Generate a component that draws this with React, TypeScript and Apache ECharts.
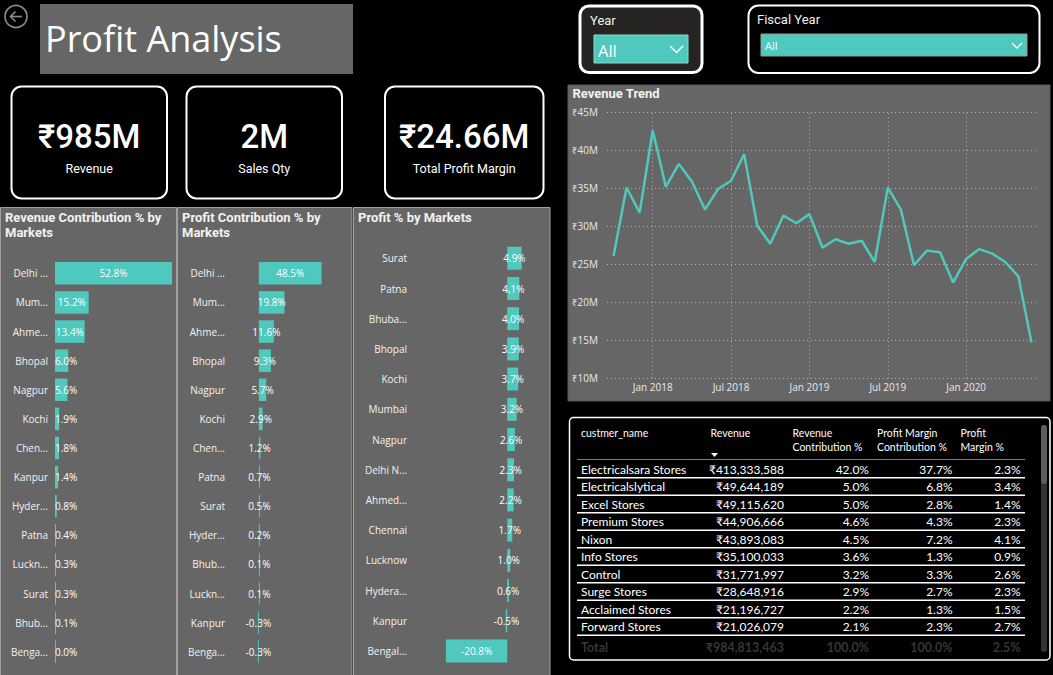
import React, { useEffect, useRef } from "react";
import * as echarts from "echarts";

// ---------- data ----------
const kpiValues = ["₹985M", "2M", "₹24.66M"];
const kpiLabels = ["Revenue", "Sales Qty", "Total Profit Margin"];

const revMarkets = ["Delhi ...", "Mum...", "Ahme...", "Bhopal", "Nagpur", "Kochi", "Chen...", "Kanpur", "Hyder...", "Patna", "Luckn...", "Surat", "Bhub...", "Benga..."];
const revContribPct = [52.8, 15.2, 13.4, 6.0, 5.6, 1.9, 1.8, 1.4, 0.8, 0.4, 0.3, 0.3, 0.1, 0.0];

const profitMarkets = ["Delhi ...", "Mum...", "Ahme...", "Bhopal", "Nagpur", "Kochi", "Chen...", "Patna", "Surat", "Hyder...", "Bhub...", "Luckn...", "Kanpur", "Benga..."];
const profitContribPct = [48.5, 19.8, 11.6, 9.3, 5.7, 2.9, 1.2, 0.7, 0.5, 0.2, 0.1, 0.1, -0.3, -0.3];

const marginMarkets = ["Surat", "Patna", "Bhuba...", "Bhopal", "Kochi", "Mumbai", "Nagpur", "Delhi N...", "Ahmed...", "Chennai", "Lucknow", "Hydera...", "Kanpur", "Bengal..."];
const marginPct = [4.9, 4.1, 4.0, 3.9, 3.7, 3.2, 2.6, 2.3, 2.2, 1.7, 1.0, 0.6, -0.5, -20.8];

const trendMonths = [
  "Oct 2017", "Nov 2017", "Dec 2017",
  "Jan 2018", "Feb 2018", "Mar 2018", "Apr 2018", "May 2018", "Jun 2018",
  "Jul 2018", "Aug 2018", "Sep 2018", "Oct 2018", "Nov 2018", "Dec 2018",
  "Jan 2019", "Feb 2019", "Mar 2019", "Apr 2019", "May 2019", "Jun 2019",
  "Jul 2019", "Aug 2019", "Sep 2019", "Oct 2019", "Nov 2019", "Dec 2019",
  "Jan 2020", "Feb 2020", "Mar 2020", "Apr 2020", "May 2020", "Jun 2020",
];
const trendRevenueM = [26.1, 35.1, 31.8, 42.6, 35.2, 38.2, 35.9, 32.2, 34.9, 36.0, 39.5, 30.1, 27.7, 31.4, 30.4, 31.6, 27.2, 28.3, 27.7, 28.1, 25.3, 35.1, 32.2, 24.9, 26.8, 26.6, 22.6, 25.7, 27.0, 26.4, 25.3, 23.4, 14.7];
const trendTickLabels = ["Jan 2018", "Jul 2018", "Jan 2019", "Jul 2019", "Jan 2020"];
const trendYMin = 10;
const trendYMax = 45;
const trendYStep = 5;

const tableHeaders = [["custmer_name"], ["Revenue"], ["Revenue", "Contribution %"], ["Profit Margin", "Contribution %"], ["Profit", "Margin %"]];
const customers = ["Electricalsara Stores", "Electricalslytical", "Excel Stores", "Premium Stores", "Nixon", "Info Stores", "Control", "Surge Stores", "Acclaimed Stores", "Forward Stores"];
const custRevenue = [413333588, 49644189, 49115620, 44906666, 43893083, 35100033, 31771997, 28648916, 21196727, 21026079];
const custRevContrib = [42.0, 5.0, 5.0, 4.6, 4.5, 3.6, 3.2, 2.9, 2.2, 2.1];
const custPmContrib = [37.7, 6.8, 2.8, 4.3, 7.2, 1.3, 3.3, 2.7, 1.3, 2.3];
const custPmPct = [2.3, 3.4, 1.4, 2.3, 4.1, 0.9, 2.6, 2.3, 1.5, 2.7];
const totalLabel = "Total";
const totalRevenue = 984813463;
const totalRevContrib = 100.0;
const totalPmContrib = 100.0;
const totalPmPct = 2.5;

// ---------- styling ----------
const W = 1053;
const H = 675;
const TEAL = "#4fc8bd";
const PANEL = "#666666";
const SEGOE = "'Open Sans', 'Noto Sans', sans-serif";
const DIN = "Roboto, 'Noto Sans', sans-serif";
const TABLEF = "Lato, 'Open Sans', sans-serif";

const pct = (v: number) => v.toFixed(1) + "%";
const rupee = (v: number) => "₹" + v.toLocaleString("en-US");

function txt(text: string, x: number, y: number, size: number, opts: any = {}) {
  const align = opts.align || "left";
  return {
    type: "text",
    z: 10,
    silent: true,
    style: {
      text,
      x,
      y,
      fill: opts.fill || "#ffffff",
      fontSize: size,
      fontFamily: opts.font || SEGOE,
      fontWeight: opts.weight || "normal",
      align,
      textAlign: align,
      verticalAlign: "middle",
      textVerticalAlign: "middle",
    },
  };
}

function buildGraphics() {
  const g: any[] = [];
  // back arrow
  g.push({ type: "circle", z: 10, shape: { cx: 16, cy: 16.5, r: 11 }, style: { fill: "none", stroke: "#8c8c8c", lineWidth: 1.6 } });
  g.push({ type: "line", z: 10, shape: { x1: 10.5, y1: 16.5, x2: 22, y2: 16.5 }, style: { stroke: "#8c8c8c", lineWidth: 1.6 } });
  g.push({ type: "polyline", z: 10, shape: { points: [[15.5, 11.5], [10.5, 16.5], [15.5, 21.5]] }, style: { fill: "none", stroke: "#8c8c8c", lineWidth: 1.6 } });

  // title
  g.push({ type: "rect", z: 1, shape: { x: 40, y: 4, width: 313, height: 70 }, style: { fill: PANEL } });
  g.push(txt("Profit Analysis", 45, 38, 36, { font: SEGOE }));

  // KPI cards
  const cardX = [11.5, 186.5, 385];
  const cardW = [155.5, 155.5, 158.5];
  cardX.forEach((x, i) => {
    g.push({ type: "rect", z: 1, shape: { x, y: 86.5, width: cardW[i], height: 112, r: 10 }, style: { fill: "#000", stroke: "#ffffff", lineWidth: 2 } });
    g.push(txt(kpiValues[i], x + cardW[i] / 2, 136, 33, { font: DIN, weight: 500, align: "center" }));
    g.push(txt(kpiLabels[i], x + cardW[i] / 2, 168.5, 12.5, { font: DIN, align: "center" }));
  });

  // Year slicer
  g.push({ type: "rect", z: 1, shape: { x: 580, y: 6, width: 122, height: 66.5, r: 9 }, style: { fill: "#252423", stroke: "#ffffff", lineWidth: 3 } });
  g.push(txt("Year", 590, 20, 13, { font: DIN, fill: "#f0f0f0" }));
  g.push({ type: "rect", z: 2, shape: { x: 594, y: 35, width: 94, height: 28 }, style: { fill: TEAL, stroke: "#8fd8d0", lineWidth: 1 } });
  g.push(txt("All", 598, 50.5, 16.5, { font: SEGOE }));
  g.push({ type: "polyline", z: 10, shape: { points: [[670, 46], [676.5, 52.5], [683, 46]] }, style: { fill: "none", stroke: "#ffffff", lineWidth: 1.5 } });

  // Fiscal Year slicer
  g.push({ type: "rect", z: 1, shape: { x: 748.5, y: 5.5, width: 291, height: 67.5, r: 10 }, style: { fill: "#000", stroke: "#ffffff", lineWidth: 2 } });
  g.push(txt("Fiscal Year", 757, 19.5, 13, { font: DIN, fill: "#f0f0f0" }));
  g.push({ type: "rect", z: 2, shape: { x: 761, y: 34, width: 266, height: 22 }, style: { fill: TEAL, stroke: "#9a9a9a", lineWidth: 1 } });
  g.push(txt("All", 765, 45.5, 11, { font: SEGOE }));
  g.push({ type: "polyline", z: 10, shape: { points: [[1012, 43], [1017, 48], [1022, 43]] }, style: { fill: "none", stroke: "#ffffff", lineWidth: 1.3 } });

  // bar panels
  const panels = [
    { x: 0.5, w: 176, title: ["Revenue Contribution % by", "Markets"] },
    { x: 177.5, w: 174.5, title: ["Profit Contribution % by", "Markets"] },
    { x: 353.5, w: 196.5, title: ["Profit % by Markets"] },
  ];
  panels.forEach((p) => {
    g.push({ type: "rect", z: -1, shape: { x: p.x, y: 207.5, width: p.w, height: 470 }, style: { fill: PANEL, stroke: "#a0a0a0", lineWidth: 1 } });
    p.title.forEach((t, k) => g.push(txt(t, p.x + 4.5, 217.8 + k * 15, 13, { font: DIN, weight: "bold", fill: "#f2f2f2" })));
  });

  // revenue trend panel
  g.push({ type: "rect", z: -1, shape: { x: 568, y: 85, width: 482, height: 316 }, style: { fill: PANEL, stroke: "#5a5a5a", lineWidth: 1 } });
  g.push(txt("Revenue Trend", 572.5, 93.5, 13, { font: DIN, weight: "bold", fill: "#f2f2f2" }));

  // table
  g.push({ type: "rect", z: 1, shape: { x: 569.5, y: 417.5, width: 480.5, height: 242.5, r: 4 }, style: { fill: "#000", stroke: "#ffffff", lineWidth: 1.5 } });
  const headX = [581, 710.5, 792.5, 877, 960.5];
  tableHeaders.forEach((lines, c) => {
    lines.forEach((t, k) => g.push(txt(t, headX[c], 432.5 + k * 14.5, 10.5, { font: TABLEF })));
  });
  g.push({ type: "polygon", z: 10, shape: { points: [[711, 453], [718, 453], [714.5, 457]] }, style: { fill: "#ffffff" } });
  g.push({ type: "line", z: 10, shape: { x1: 577, y1: 459.5, x2: 1025, y2: 459.5 }, style: { stroke: "#7a7a7a", lineWidth: 1 } });
  const colRight = [784, 869, 952.5, 1020.5];
  const rowH = 17.5;
  customers.forEach((name, i) => {
    const y = 469.3 + i * rowH;
    g.push(txt(name, 581, y, 12, { font: TABLEF }));
    g.push(txt(rupee(custRevenue[i]), colRight[0], y, 12, { font: TABLEF, align: "right" }));
    g.push(txt(pct(custRevContrib[i]), colRight[1], y, 12, { font: TABLEF, align: "right" }));
    g.push(txt(pct(custPmContrib[i]), colRight[2], y, 12, { font: TABLEF, align: "right" }));
    g.push(txt(pct(custPmPct[i]), colRight[3], y, 12, { font: TABLEF, align: "right" }));
    const ly = 477.7 + i * rowH;
    g.push({ type: "line", z: 10, shape: { x1: 577, y1: ly, x2: 1025, y2: ly }, style: { stroke: "#ffffff", lineWidth: 1.5 } });
  });
  const ty = 469.3 + customers.length * rowH + 3;
  const dim = "#363636";
  g.push(txt(totalLabel, 581, ty, 12.5, { font: TABLEF, weight: "bold", fill: dim }));
  g.push(txt(rupee(totalRevenue), colRight[0], ty, 12.5, { font: TABLEF, weight: "bold", fill: dim, align: "right" }));
  g.push(txt(pct(totalRevContrib), colRight[1], ty, 12.5, { font: TABLEF, weight: "bold", fill: dim, align: "right" }));
  g.push(txt(pct(totalPmContrib), colRight[2], ty, 12.5, { font: TABLEF, weight: "bold", fill: dim, align: "right" }));
  g.push(txt(pct(totalPmPct), colRight[3], ty, 12.5, { font: TABLEF, weight: "bold", fill: dim, align: "right" }));
  // scrollbar
  g.push({ type: "rect", z: 10, shape: { x: 1041, y: 425, width: 6, height: 227, r: 3 }, style: { fill: "#333333" } });
  g.push({ type: "rect", z: 11, shape: { x: 1041, y: 425, width: 6, height: 59, r: 3 }, style: { fill: "#5e5e5e" } });
  return g;
}

function catAxis(gridIndex: number, data: string[], margin: number) {
  return {
    type: "category",
    gridIndex,
    data,
    inverse: true,
    axisLine: { show: false },
    axisTick: { show: false },
    splitLine: { show: false },
    axisLabel: { color: "#f2f2f2", fontSize: 10, margin, fontFamily: SEGOE },
  };
}

function valAxis(gridIndex: number, min: number, max: number) {
  return { type: "value", gridIndex, min, max, show: false, splitLine: { show: false } };
}

function barSeries(idx: number, values: number[], barWidth: number, posRule: (v: number) => string) {
  return {
    type: "bar",
    xAxisIndex: idx,
    yAxisIndex: idx,
    silent: true,
    barWidth,
    barMinHeight: 1,
    itemStyle: { color: TEAL },
    data: values.map((v) => ({ value: v, label: { position: posRule(v) } })),
    label: {
      show: true,
      distance: 0,
      color: "#ffffff",
      fontSize: 10,
      fontFamily: SEGOE,
      textBorderWidth: 0,
      formatter: (p: any) => pct(p.value),
    },
  };
}

function buildOption() {
  return {
    animation: false,
    backgroundColor: "#000000",
    textStyle: { fontFamily: SEGOE },
    grid: [
      { left: 55, top: 258.75, width: 119.6, height: 407.6 },
      { left: 255, top: 258.75, width: 75, height: 407.6 },
      { left: 433.5, top: 243.2, width: 103.25, height: 422.8 },
      { left: 607, top: 112.3, width: 431, height: 266 },
    ],
    xAxis: [
      valAxis(0, 0, 54),
      valAxis(1, -3, 55),
      valAxis(2, -25, 10),
      {
        type: "category",
        gridIndex: 3,
        data: trendMonths,
        boundaryGap: true,
        axisLine: { show: false },
        axisTick: { show: false },
        splitLine: { show: false },
        axisLabel: {
          interval: (_i: number, v: string) => trendTickLabels.includes(v),
          color: "#e8e8e8",
          fontSize: 10,
          margin: 4,
          fontFamily: SEGOE,
        },
      },
    ],
    yAxis: [
      catAxis(0, revMarkets, 7),
      catAxis(1, profitMarkets, 30),
      catAxis(2, marginMarkets, 26.5),
      {
        type: "value",
        gridIndex: 3,
        min: trendYMin,
        max: trendYMax,
        interval: trendYStep,
        axisLine: { show: false },
        axisTick: { show: false },
        axisLabel: { formatter: (v: number) => `₹${v}M`, color: "#e8e8e8", fontSize: 10, margin: 9, fontFamily: SEGOE },
        splitLine: { lineStyle: { type: [1, 3], color: "#b4b4b4", width: 1 } },
      },
    ],
    series: [
      barSeries(0, revContribPct, 22.5, (v) => (v >= 10 ? "inside" : "insideLeft")),
      barSeries(1, profitContribPct, 22.5, () => "inside"),
      barSeries(2, marginPct, 23, () => "inside"),
      {
        type: "line",
        xAxisIndex: 3,
        yAxisIndex: 3,
        data: trendRevenueM,
        showSymbol: false,
        symbol: "none",
        silent: true,
        lineStyle: { color: TEAL, width: 2.5 },
        z: 5,
        markLine: {
          silent: true,
          symbol: ["none", "none"],
          label: { show: false },
          lineStyle: { type: [1, 3], color: "#b4b4b4", width: 1 },
          data: trendTickLabels.map((m) => ({ xAxis: m })),
        },
      },
    ],
    graphic: { elements: buildGraphics() },
  };
}

export default function App() {
  const ref = useRef<HTMLDivElement>(null);
  useEffect(() => {
    if (!ref.current) return;
    const chart = echarts.init(ref.current, null, { renderer: "svg", width: W, height: H });
    chart.setOption(buildOption() as any);
    return () => chart.dispose();
  }, []);
  return (
    <div style={{ position: "fixed", left: 0, top: 0, width: W, height: H, background: "#000" }}>
      <div ref={ref} style={{ width: W, height: H }} />
    </div>
  );
}
